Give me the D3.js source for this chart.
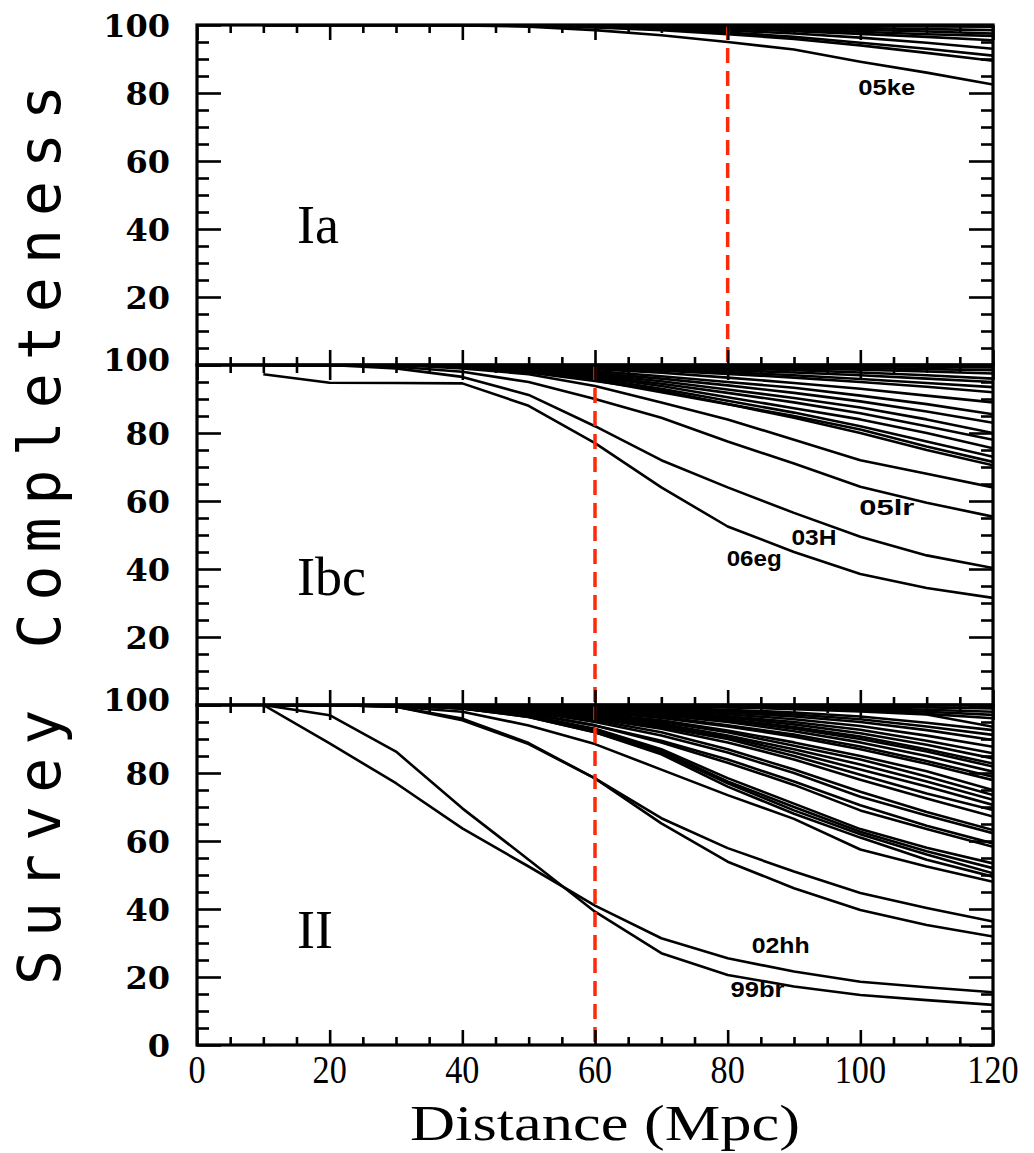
<!DOCTYPE html>
<html>
<head>
<meta charset="utf-8">
<script src="https://cdn.jsdelivr.net/npm/d3@7/dist/d3.min.js"></script>
<style>
  body { margin:0; background:#fff; }
</style>
</head>
<body>
<svg id="chart" width="1034" height="1153"></svg>
<script>
// distances (Mpc) at which completeness was computed
const dist = [10,20,30,40,50,60,70,80,90,100,110,120];

// ---- Ia ----
const iaCurves = [
  [100,100,100,100,100,100,100,99.9,99.8,99.7,99.6,99.5],
  [100,100,100,100,100,99.9,99.8,99.6,99.4,99.1,98.8,98.5],
  [100,100,100,100,100,99.9,99.7,99.4,99,98.6,98.1,97.5],
  [100,100,100,100,99.9,99.8,99.6,99.2,98.7,98,97.3,96.8],
  [100,100,100,100,99.9,99.7,99.4,98.9,98.2,97.4,96.5,95.5],
  [100,100,100,100,99.9,99.6,99.1,98.4,97.5,96.3,94.8,93],
  [100,100,100,100,99.8,99.4,98.8,97.8,96.5,94.8,93,91],
  [100,100,100,100,99.8,99.3,98.5,97.3,95.9,94,91.8,89.5],
  [100,100,100,99.9,99.5,98.5,97,95,92.8,89.2,86,82.5]   // 05ke
];

// ---- Ibc ----
const ibcCurves = [
  [100,100,100,100,100,100,99.9,99.8,99.7,99.6,99.5,99.3],
  [100,100,100,100,100,99.9,99.8,99.6,99.4,99.1,98.8,98.5],
  [100,100,100,100,99.9,99.8,99.6,99.3,99,98.6,98.1,97.5],
  [100,100,100,100,99.9,99.7,99.4,99,98.5,97.8,97,96],
  [100,100,100,100,99.8,99.5,99.1,98.5,97.8,97,96,95],
  [100,100,100,99.9,99.7,99.3,98.7,97.9,97,95.9,94.7,93.5],
  [100,100,100,99.9,99.6,99,98.3,97.4,96.3,95,93.6,92],
  [100,100,100,100,99.5,98.8,97.7,96.3,94.7,93,91,89],
  [100,100,100,100,99.3,98.2,96.7,95,93.3,91,88.5,85.5],
  [100,100,100,99.8,99,97.6,96,94,91.8,89.3,86.3,83],
  [100,100,100,99.8,98.8,97.2,95.2,92.8,90.3,87.5,84,80],
  [100,100,100,99.7,98.6,96.8,94.5,91.8,89,85.8,82,78],
  [100,100,100,99.7,98.5,96.5,93.8,90.5,87.3,84,80,75.5],
  [100,100,100,99.6,98.3,96,93,89.5,86,82,77.5,73],
  [100,100,100,99.5,98,95.5,92,88.5,85,81,76,71.5],
  [100,100,100,99.5,97.8,95.3,92.5,88.5,84.5,80,75,70.5],
  [100,100,100,99,97.3,93.8,89,84,78,72,68,64],
  [100,100,99.5,98,95,90,84.5,77.5,71,64.2,59.5,55.4],   // 05lr
  [100,100,99,96.5,91.2,82,72,64,56.5,49.5,44,40.3],     // 03H
  [97.3,94.8,94.7,94.6,88,77,64,52.5,45,38.5,34.4,31.5]  // 06eg
];

// ---- II ----
const iiCurves = [
  [100,100,100,100,100,100,100,99.9,99.8,99.6,99.3,99],
  [100,100,100,100,100,100,99.9,99.8,99.6,99.2,98.6,98],
  [100,100,100,100,100,99.9,99.8,99.6,99.3,98.8,98,97.1],
  [100,100,100,100,100,99.9,99.7,99.4,99,98.5,97.4,96.1],
  [100,100,100,100,100,99.9,99.7,99.3,98.8,98.1,97.2,93.6],
  [100,100,100,100,99.9,99.6,99.2,98.6,97.8,96.6,94.8,92.6],
  [100,100,100,100,99.9,99.5,99,98.2,97.2,95.8,93.7,91.2],
  [100,100,100,100,99.8,99.4,98.7,97.8,96.6,95,92.6,89.7],
  [100,100,100,100,99.8,99.2,98.4,97.3,95.8,93.8,91,87.7],
  [100,100,100,100,99.7,99,98,96.7,95,92.7,89.5,85.8],
  [100,100,100,100,99.6,98.9,97.8,96.3,94.3,91.7,88.3,84.3],
  [100,100,100,99.9,99.5,98.7,97.5,95.8,93.5,90.7,87,82.8],
  [100,100,100,99.9,99.5,98.6,97.3,95.5,93,90,86.3,81.9],
  [100,100,100,99.9,99.4,98.4,97,95,92.3,89,85,80.4],
  [100,100,100,99.8,99.3,98,96.5,94,91.3,87.8,83.5,78.9],
  [100,100,100,99.8,99.2,98,96.2,93.7,90.7,87,82.7,77.9],
  [100,100,100,99.8,99,97.5,95.5,92.5,89,85,80.5,75],
  [100,100,100,99.7,99,97.2,95,92,88,84,79,73.5],
  [100,100,100,99.7,98.8,97,94.5,91,87,82.5,77.5,72.1],
  [100,100,100,99.7,98.7,96.5,94,90.5,86,81,76,70.6],
  [100,100,100,99.6,98.5,96.5,93.5,90,85,79.5,74,69.1],
  [100,100,100,99.6,98.5,96,93,89,84,78,72.5,67.2],
  [100,100,100,99.5,98,95.5,92,87,81,74.5,68.5,63.2],
  [100,100,100,99.5,98,95,91,86,80,73,67.5,62.3],
  [100,100,100,99.3,97.5,94,89.5,84,77.5,70.5,64.5,59.3],
  [100,100,100,99.3,97.5,94,89,83,76.5,69,63.5,58.3],
  [100,100,100,99,97,93,87,78.5,71,63.5,58,53.4],
  [100,100,100,99,96.8,92.5,86.5,77.5,70,62.7,57,52],
  [100,100,100,99,96.5,92,86,77,69,62,56,50.5],
  [100,100,100,99,96.5,92,85.5,76,68,61,54.5,49.5],
  [100,100,99.5,98,94,88.5,81,73.5,66.5,57.5,52.5,48],
  [100,100,99.5,96,88.8,78.4,66.7,57.9,51,44.7,40.3,36.3],
  [100,100,99.5,95.5,88.5,78.4,65.2,53.9,46.1,39.7,35.3,31.9],
  [100,88.7,77,63.7,52.5,41,31.4,25.5,21.6,18.6,17,15.5],   // 02hh
  [100,97,86.3,69.6,54.5,39.2,27,20.6,17.2,14.7,13.2,11.8]  // 99br
];

const panelNames = ["Ia", "Ibc", "II"];
const panelCuts = [80, 60, 60];
const yTickValues = [0,20,40,60,80,100];
const xTickValues = [0,20,40,60,80,100,120];

// curve labels: [panel, text, x (Mpc), y (%), width px]
const curveLabels = [
  [0, "05ke", 104, 79.5, 57],
  [1, "05lr", 104, 56, 55],
  [1, "03H", 93, 47, 45],
  [1, "06eg", 84, 41, 55],
  [2, "02hh", 88, 27, 58],
  [2, "99br", 84.5, 14, 54]
];

const left = 197, right = 993, top0 = 25, ph = 340;

const svg = d3.select("#chart");
const x = d3.scaleLinear().domain([0,120]).range([left, right]);

const line = (y) => d3.line().x((d,i)=>x(dist[i])).y(d=>y(d));

[iaCurves, ibcCurves, iiCurves].forEach((curves, p) => {
  const t = top0 + p*ph;
  const y = d3.scaleLinear().domain([0,100]).range([t+ph, t]);
  const g = svg.append("g");

  g.append("clipPath").attr("id","clip"+p)
    .append("rect").attr("x",left).attr("y",t).attr("width",right-left).attr("height",ph);

  const lg = g.append("g").attr("clip-path","url(#clip"+p+")");
  lg.selectAll("path.c").data(curves).enter().append("path")
    .attr("class","c")
    .attr("d", line(y))
    .attr("fill","none")
    .attr("stroke","#000")
    .attr("stroke-width",2.6)
    .attr("stroke-linejoin","round");

  // red dashed cut
  g.append("line")
    .attr("x1", x(panelCuts[p])).attr("x2", x(panelCuts[p]))
    .attr("y1", t).attr("y2", t+ph)
    .attr("stroke","#ff2a0a").attr("stroke-width",3.5)
    .attr("stroke-dasharray","15,8");

  // ticks (inward), major + minor
  const mk = (axis, tr, vals, size) => {
    const a = g.append("g").attr("transform", tr)
      .call(axis.tickValues(vals).tickSize(size).tickFormat(""));
    a.select(".domain").remove();
    a.selectAll("line").attr("stroke","#000").attr("stroke-width",2.6);
  };
  const yMinor = d3.range(0,101,5).filter(v => v%20);
  const xMinor = d3.range(0,121,5).filter(v => v%20);
  mk(d3.axisLeft(y), `translate(${left},0)`, yTickValues, -24);
  mk(d3.axisLeft(y), `translate(${left},0)`, yMinor, -12);
  mk(d3.axisRight(y), `translate(${right},0)`, yTickValues, -24);
  mk(d3.axisRight(y), `translate(${right},0)`, yMinor, -12);
  mk(d3.axisTop(x), `translate(0,${t})`, xTickValues, -15);
  mk(d3.axisTop(x), `translate(0,${t})`, xMinor, -8);
  mk(d3.axisBottom(x), `translate(0,${t+ph})`, xTickValues, -15);
  mk(d3.axisBottom(x), `translate(0,${t+ph})`, xMinor, -8);

  g.append("rect")
    .attr("x",left).attr("y",t).attr("width",right-left).attr("height",ph)
    .attr("fill","none").attr("stroke","#000").attr("stroke-width",3.2);

  // y tick labels
  const labs = p === 2 ? yTickValues : yTickValues.filter(v => v > 0);
  g.selectAll("text.yl").data(labs).enter().append("text")
    .attr("class","yl")
    .attr("x", 170)
    .attr("y", d => y(d) + (d===100 && p>0 ? -6 : 0))
    .attr("dy","0.36em")
    .attr("text-anchor","end")
    .attr("font-family","DejaVu Serif")
    .attr("font-weight","bold")
    .attr("font-size",32)
    .text(d => d);

  // panel label
  g.append("text")
    .attr("x", 297).attr("y", [243,595,948][p])
    .attr("font-family","Liberation Serif")
    .attr("font-size",54)
    .text(panelNames[p]);

  // curve labels
  curveLabels.filter(c => c[0]===p).forEach(c => {
    g.append("text")
      .attr("x", x(c[2])).attr("y", y(c[3]))
      .attr("text-anchor","middle")
      .attr("font-family","Liberation Sans Narrow, Liberation Sans")
      .attr("font-weight","bold")
      .attr("font-size",22)
      .attr("textLength", c[4])
      .attr("lengthAdjust","spacingAndGlyphs")
      .text(c[1]);
  });
});

// x tick labels
svg.selectAll("text.xl").data(xTickValues).enter().append("text")
  .attr("class","xl")
  .attr("transform", d => `translate(${x(d)},1083) scale(0.95,1.1)`)
  .attr("text-anchor","middle")
  .attr("font-family","Liberation Serif")
  .attr("font-size",36)
  .text(d => d);

// axis titles
svg.append("text")
  .attr("transform","translate(605,1140) scale(1,1.1)")
  .attr("text-anchor","middle")
  .attr("font-family","Liberation Serif")
  .attr("font-size",46)
  .attr("textLength",390)
  .attr("lengthAdjust","spacingAndGlyphs")
  .text("Distance (Mpc)");

svg.append("text")
  .attr("transform","translate(60,535) rotate(-90)")
  .attr("text-anchor","middle")
  .attr("font-family","DejaVu Sans Mono")
  .attr("font-size",58)
  .attr("textLength",900)
  .attr("lengthAdjust","spacing")
  .text("Survey Completeness");
</script>
</body>
</html>
